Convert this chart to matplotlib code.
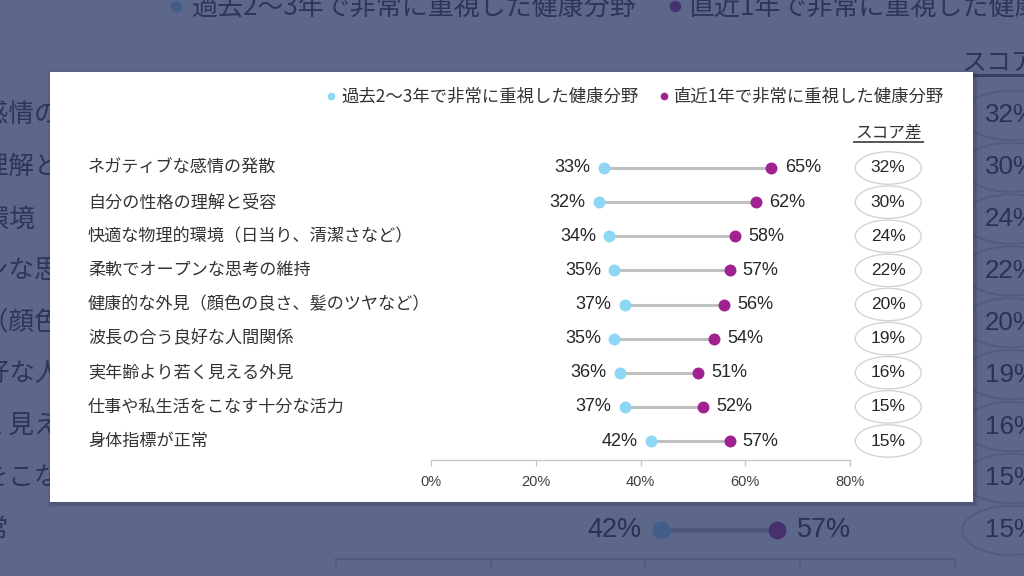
import matplotlib.pyplot as plt
from matplotlib.lines import Line2D
from matplotlib.patches import Ellipse, Rectangle

plt.rcParams['font.family'] = ['Liberation Sans', 'Noto Sans CJK JP', 'DejaVu Sans']

# data
categories = [
    'ネガティブな感情の発散',
    '自分の性格の理解と受容',
    '快適な物理的環境（日当り、清潔さなど）',
    '柔軟でオープンな思考の維持',
    '健康的な外見（顔色の良さ、髪のツヤなど）',
    '波長の合う良好な人間関係',
    '実年齢より若く見える外見',
    '仕事や私生活をこなす十分な活力',
    '身体指標が正常',
]
past = [33, 32, 34, 35, 37, 35, 36, 37, 42]
recent = [65, 62, 58, 57, 56, 54, 51, 52, 57]
score_diff = [32, 30, 24, 22, 20, 19, 16, 15, 15]
legend_labels = ['過去2～3年で非常に重視した健康分野', '直近1年で非常に重視した健康分野']
diff_title = 'スコア差'
xticks = [0, 20, 40, 60, 80]

BLUE = '#8dd7f5'
PURPLE = '#a0228f'
JP = ['Noto Sans CJK JP', 'DejaVu Sans']
NUM = ['Liberation Sans', 'Noto Sans CJK JP']

W, H = 1024, 576
fig = plt.figure(figsize=(W / 100, H / 100), dpi=100)
fig.patch.set_facecolor('white')


def draw_chart(sx, sy, dx, dy, z):
    """Draw the dumbbell chart, scaled (sx, sy) and shifted in pixels."""
    s = (sx + sy) / 2

    def fx(x):
        return (sx * x + dx) / W

    def fy(y):
        return 1 - (sy * y + dy) / H

    left, right, top, bottom = 431, 850, 150, 460
    ax = fig.add_axes([fx(left), fy(bottom), fx(right) - fx(left), fy(top) - fy(bottom)])
    ax.set_zorder(z)
    ax.patch.set_alpha(0)
    n = len(categories)
    ax.set_xlim(0, 80)
    row0, step = 168, 34.125
    ax.set_ylim((bottom - row0) / step, (top - row0) / step)

    for i in range(n):
        ax.plot([past[i], recent[i]], [i, i], color='#c0c0c0', lw=2.2 * s,
                solid_capstyle='butt', zorder=2)
    rows = list(range(n))
    ax.scatter(past, rows, s=(8.6 * s) ** 2, color=BLUE, zorder=3, linewidths=0)
    ax.scatter(recent, rows, s=(8.6 * s) ** 2, color=PURPLE, zorder=3, linewidths=0)

    diff_x = 87.3
    for i in range(n):
        ax.annotate(f'{past[i]}%', (past[i], i), xytext=(-9.5 * s, 0),
                    textcoords='offset points', ha='right', va='center',
                    fontsize=13 * s, color='#262626', family=NUM)
        ax.annotate(f'{recent[i]}%', (recent[i], i), xytext=(9.5 * s, 0),
                    textcoords='offset points', ha='left', va='center',
                    fontsize=13 * s, color='#262626', family=NUM)
        ax.text(-65.5, i, categories[i], ha='left', va='center',
                fontsize=12.3 * s, color='#333333', family=JP)
        ax.add_patch(Ellipse((diff_x, i), 12.6, 0.95, facecolor='white',
                             edgecolor='#d4d4d4', lw=1.0 * s, clip_on=False, zorder=2))
        ax.text(diff_x, i, f'{score_diff[i]}%', ha='center', va='center',
                fontsize=12.5 * s, color='#262626', family=NUM, zorder=3)

    ax.text(diff_x, -1.03, diff_title, ha='center', va='center',
            fontsize=12 * s, color='#333333', family=JP)
    ax.plot([diff_x - 6.6, diff_x + 6.6], [-0.77, -0.77], color='#555555',
            lw=1.4 * s, clip_on=False)

    for side in ['top', 'right', 'left']:
        ax.spines[side].set_visible(False)
    ax.spines['bottom'].set_color('#c8c8c8')
    ax.spines['bottom'].set_linewidth(1.0 * s)
    ax.set_yticks([])
    ax.set_xticks(xticks)
    ax.set_xticklabels([f'{t}%' for t in xticks], family=NUM)
    ax.tick_params(axis='x', length=4 * s, width=1.0 * s, color='#c8c8c8',
                   labelsize=10.5 * s, labelcolor='#404040', pad=7 * s)

    handles = [Line2D([], [], ls='none', marker='o', ms=5.5 * s, color=c, mew=0)
               for c in (BLUE, PURPLE)]
    leg = ax.legend(handles, legend_labels, loc='center right', ncol=2,
                    bbox_to_anchor=(fx(944), fy(97)), bbox_transform=fig.transFigure,
                    frameon=False, handletextpad=0.15, columnspacing=1.1,
                    handlelength=0.8, borderaxespad=0, borderpad=0,
                    prop={'family': JP, 'size': 12.5 * s})
    for t in leg.get_texts():
        t.set_color('#333333')
    return ax


# enlarged, darkened copy behind the card
draw_chart(1.476, 1.52, -300, -140, 0)
fig.patches.append(Rectangle((0, 0), 1, 1, transform=fig.transFigure,
                             facecolor='#2a3766', alpha=0.76, zorder=1))

# card with soft shadow
for k, a in enumerate([0.10, 0.08, 0.06]):
    fig.patches.append(Rectangle(((50 - k) / W, 1 - (505 + k) / H), (926 + 2 * k) / W,
                                 (432 + 2 * k) / H, transform=fig.transFigure,
                                 facecolor='#1a2240', alpha=a, zorder=2))
fig.patches.append(Rectangle((50 / W, 1 - 502 / H), 923 / W, 430 / H,
                             transform=fig.transFigure, facecolor='white', zorder=3))

draw_chart(1.0, 1.0, 0, 0, 4)

fig.savefig('out.png', dpi=100)
